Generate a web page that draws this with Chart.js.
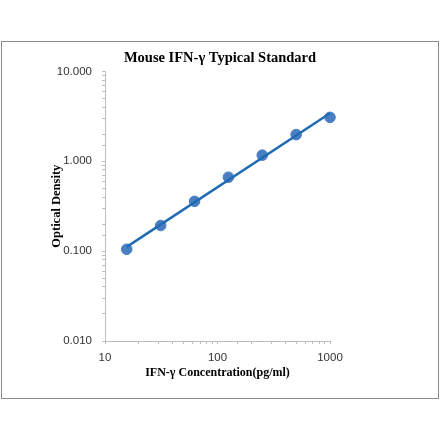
<!DOCTYPE html>
<html>
<head>
<meta charset="utf-8">
<script src="https://cdn.jsdelivr.net/npm/chart.js@4/dist/chart.umd.min.js"></script>
<style>
  html, body { margin: 0; padding: 0; background: #fff; }
  #wrap { position: relative; width: 440px; height: 441px; }
  #frame { position: absolute; left: 1px; top: 41px; width: 435.5px; height: 355.5px; border: 1.5px solid #8a8a8a; pointer-events: none; }
  canvas { position: absolute; left: 0; top: 0; }
</style>
</head>
<body>
<div id="wrap">
  <canvas id="c" width="440" height="441"></canvas>
  <div id="frame"></div>
</div>
<script>
const concentrations = [15.6, 31.25, 62.5, 125, 250, 500, 1000];
const opticalDensity = [0.105, 0.193, 0.358, 0.665, 1.17, 1.98, 3.08];
const yTickLabels = ['0.010', '0.100', '1.000', '10.000'];
const xTickLabels = ['10', '100', '1000'];
const chartTitle = 'Mouse IFN-\u03b3 Typical Standard';
const xTitle = 'IFN-\u03b3 Concentration(pg/ml)';
const yTitle = 'Optical Density';

// Power-law trendline (least squares in log-log space), as in the spreadsheet
const lx = concentrations.map(Math.log), ly = opticalDensity.map(Math.log);
const n = lx.length;
const mx = lx.reduce((a, b) => a + b) / n, my = ly.reduce((a, b) => a + b) / n;
let sxy = 0, sxx = 0;
for (let i = 0; i < n; i++) { sxy += (lx[i] - mx) * (ly[i] - my); sxx += (lx[i] - mx) ** 2; }
const slope = sxy / sxx, icpt = my - slope * mx;
const fitX = [concentrations[0], concentrations[n - 1]];
const trend = fitX.map(x => ({ x: x, y: Math.exp(icpt) * Math.pow(x, slope) }));

const isPow10 = v => Math.abs(Math.log10(v) - Math.round(Math.log10(v))) < 1e-9;

new Chart(document.getElementById('c'), {
  type: 'scatter',
  data: {
    datasets: [
      {
        data: trend, showLine: true, borderColor: '#1f6cb4', borderWidth: 2.5,
        pointRadius: 0, fill: false, clip: false
      },
      {
        data: concentrations.map((x, i) => ({ x: x, y: opticalDensity[i] })),
        backgroundColor: '#4a7ec2', borderColor: '#4a7ec2', pointRadius: 5.3, pointHoverRadius: 5.3,
        showLine: false, clip: false
      }
    ]
  },
  options: {
    responsive: false, animation: false,
    layout: { padding: { left: 0, right: 0, top: 50, bottom: 56 } },
    plugins: {
      legend: { display: false }, tooltip: { enabled: false },
      title: {
        display: true, text: chartTitle, color: '#000',
        font: { family: 'Liberation Serif', size: 14.5, weight: 'bold' },
        padding: { top: 0, bottom: 4 }
      }
    },
    scales: {
      x: {
        type: 'logarithmic', min: 10, max: 1000,
        border: { color: '#bdbdbd', width: 1 },
        grid: { drawOnChartArea: false, drawTicks: true, tickLength: 3, color: '#bdbdbd' },
        ticks: {
          autoSkip: false, maxRotation: 0, padding: 7, color: '#333',
          font: { family: 'Liberation Sans', size: 11.5 },
          callback: (v) => isPow10(v) ? xTickLabels[Math.round(Math.log10(v)) - 1] : ''
        },
        title: {
          display: true, text: xTitle, color: '#000',
          font: { family: 'Liberation Serif', size: 12, weight: 'bold' },
          padding: { top: 4, bottom: 5 }
        },
        afterFit: (s) => { s.height = 44; }
      },
      y: {
        type: 'logarithmic', min: 0.01, max: 10,
        border: { color: '#bdbdbd', width: 1 },
        grid: { drawOnChartArea: false, drawTicks: true, tickLength: 3, color: '#bdbdbd' },
        ticks: {
          autoSkip: false, padding: 10, color: '#333',
          font: { family: 'Liberation Sans', size: 11.5 },
          callback: (v) => isPow10(v) ? yTickLabels[Math.round(Math.log10(v)) + 2] : ''
        },
        title: {
          display: true, text: yTitle, color: '#000',
          font: { family: 'Liberation Serif', size: 12.5, weight: 'bold' },
          padding: { top: 49, bottom: 4 }
        },
        afterFit: (s) => { s.width = 105; }
      },
      rightSpace: {
        position: 'right', display: true,
        ticks: { display: false }, grid: { display: false }, border: { display: false },
        afterFit: (s) => { s.width = 110; }
      }
    }
  }
});
</script>
</body>
</html>
